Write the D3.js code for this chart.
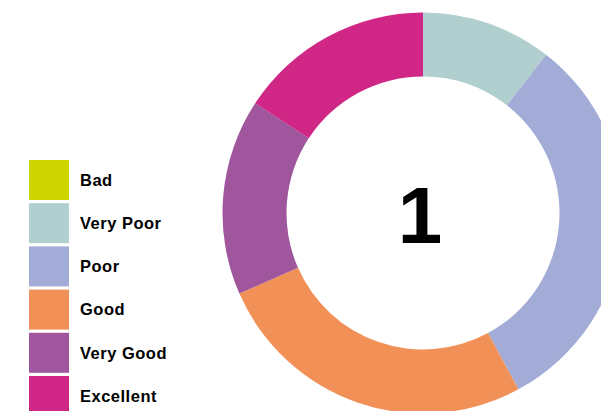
<!DOCTYPE html>
<html><head><meta charset="utf-8">
<script src="https://cdn.jsdelivr.net/npm/d3@7"></script>
<style>html,body{margin:0;padding:0;background:#fff;overflow:hidden}</style>
</head><body>
<svg id="c" width="601" height="411"></svg>
<script>
const categories = ["Bad", "Very Poor", "Poor", "Good", "Very Good", "Excellent"];
const values = [0, 2, 6, 5, 3, 3];
const colors = ["#cdd500", "#b1cfcf", "#a3acd7", "#f29157", "#a0569c", "#d02686"];
const centerLabel = "1";

const svg = d3.select("#c");
const cx = 423, cy = 213, outerR = 200.5, innerR = 136.5;

const pie = d3.pie().value(d => d).sort(null);
const arc = d3.arc().innerRadius(innerR).outerRadius(outerR);
const color = d3.scaleOrdinal().domain(categories).range(colors);

const g = svg.append("g").attr("transform", `translate(${cx},${cy})`);
g.selectAll("path").data(pie(values)).join("path")
  .attr("d", arc)
  .attr("fill", (d, i) => color(categories[i]));

g.append("text")
  .attr("text-anchor", "middle")
  .attr("x", -3)
  .attr("y", 30)
  .attr("font-family", "Liberation Sans, Arial, sans-serif")
  .attr("font-weight", "bold")
  .attr("font-size", 80)
  .attr("fill", "#000")
  .text(centerLabel);

const legend = svg.append("g").attr("transform", "translate(29,160)");
const ly = d3.scaleBand().domain(categories).range([0, 6 * 43.2]).paddingInner(0);
const item = legend.selectAll("g").data(categories).join("g")
  .attr("transform", d => `translate(0,${ly(d)})`);
item.append("rect").attr("width", 40).attr("height", 40).attr("fill", d => color(d));
item.append("text")
  .attr("x", 51).attr("y", 20).attr("dy", "0.35em")
  .attr("font-family", "Liberation Sans, Arial, sans-serif")
  .attr("font-weight", "bold").attr("font-size", 16.5)
  .attr("letter-spacing", 0.5).attr("fill", "#000")
  .text(d => d);
</script>
</body></html>
